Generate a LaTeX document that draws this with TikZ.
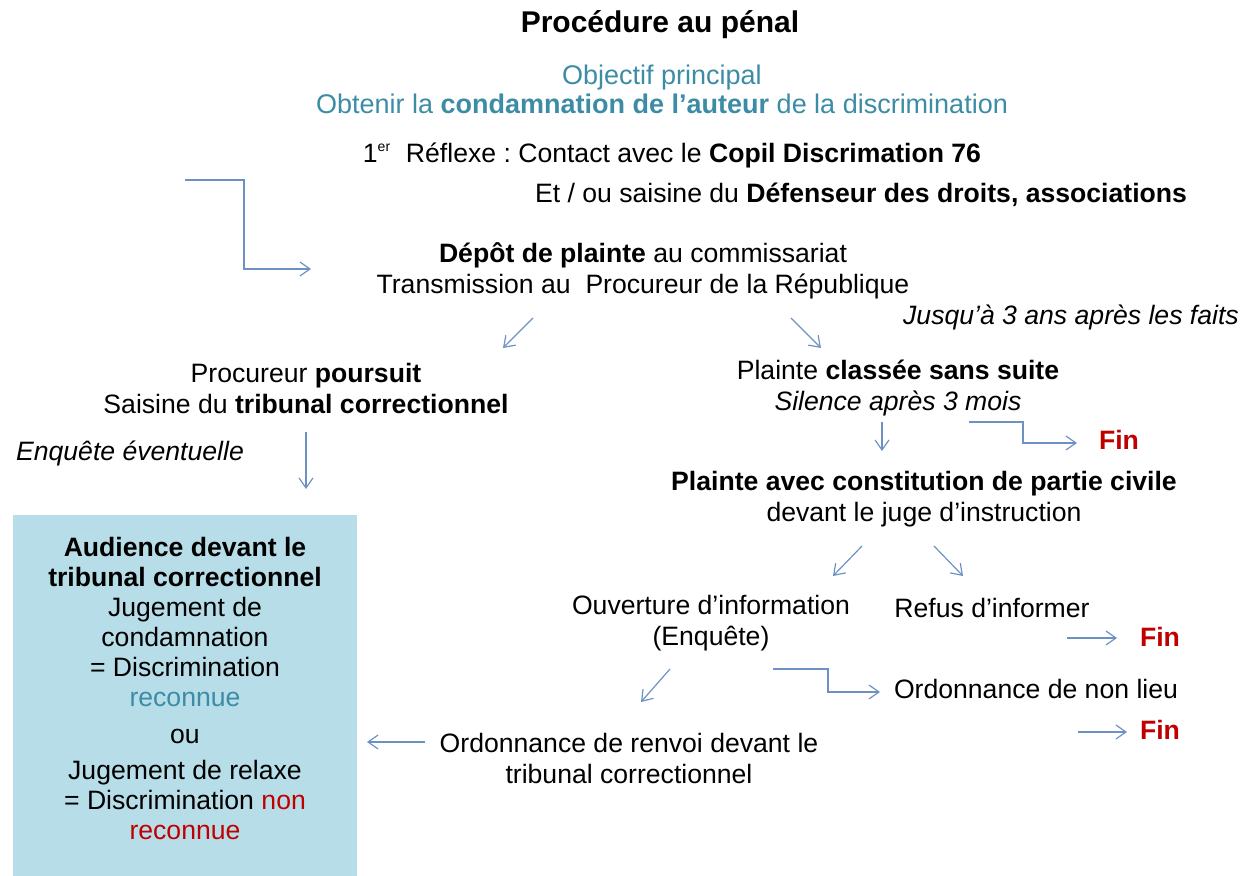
\documentclass[tikz,border=0pt]{standalone}
\usepackage{fontspec}
\setmainfont{Liberation Sans}
\usetikzlibrary{arrows.meta}
\definecolor{tealc}{RGB}{60,140,165}
\definecolor{redc}{RGB}{192,0,0}
\definecolor{arrowc}{RGB}{110,145,195}
\definecolor{boxc}{RGB}{183,221,232}
\frenchspacing
\begin{document}
\begin{tikzpicture}[x=0.5pt,y=-0.5pt,
  txt/.style={inner sep=0pt, align=center, font=\fontsize{13.3}{15.5}\selectfont},
  fin/.style={txt, text=redc, font=\fontsize{13.3}{15.5}\selectfont\bfseries},
  arr/.style={draw=arrowc, line width=0.6pt, -{Straight Barb[length=5pt,width=7pt]}},
  bluebox/.style={fill=boxc, draw=none, minimum width=172pt, minimum height=180.5pt, inner sep=0pt}
  ]
\useasboundingbox (0,0) rectangle (1250,876);

% texts
\node[txt, font=\fontsize{15}{17}\selectfont\bfseries] (title) at (660,25) {Procédure au pénal};
\node[txt, text=tealc, font=\fontsize{13.5}{14.5}\selectfont] (obj) at (662,89) {Objectif principal\\ Obtenir la \textbf{condamnation de l’auteur} de la discrimination};
\node[txt] (reflexe) at (672,155) {1\textsuperscript{\scriptsize er}\ \ Réflexe : Contact avec le \textbf{Copil Discrimation 76}};
\node[txt] (etou) at (861,195) {Et / ou saisine du \textbf{Défenseur des droits, associations}};
\node[txt] (depot) at (643,271) {\textbf{Dépôt de plainte} au commissariat\\ Transmission au\ \ Procureur de la République};
\node[txt] (jusqu) at (1071,317) {\textit{Jusqu’à 3 ans après les faits}};
\node[txt] (proc) at (306,388) {Procureur \textbf{poursuit}\\ Saisine du \textbf{tribunal correctionnel}};
\node[txt] (classee) at (898,388) {Plainte \textbf{classée sans suite}\\ \textit{Silence après 3 mois}};
\node[txt] (enquete) at (130,453) {\textit{Enquête éventuelle}};
\node[fin] (fina) at (1119,440) {Fin};
\node[txt] (avec) at (924,499) {\textbf{Plainte avec constitution de partie civile}\\ devant le juge d’instruction};
\node[txt] (ouv) at (711,623) {Ouverture d’information\\ (Enquête)};
\node[txt] (refus) at (992,608) {Refus d’informer};
\node[fin] (finb) at (1160,637) {Fin};
\node[txt] (nonlieu) at (1036,689) {Ordonnance de non lieu};
\node[fin] (finc) at (1160,730) {Fin};
\node[txt] (renvoi) at (629,758) {Ordonnance de renvoi devant le\\ tribunal correctionnel};

% blue box
\node[bluebox] (boxbg) at (185,695.5) {};
\node[txt, font=\fontsize{13.3}{15}\selectfont] (aud) at (185,688) {\textbf{Audience devant le}\\ \textbf{tribunal correctionnel}\\ Jugement de\\ condamnation\\ = Discrimination\\ {\color{tealc}reconnue}\\[3.5pt] ou\\[3pt] Jugement de relaxe\\ = Discrimination {\color{redc}non}\\ {\color{redc}reconnue}};

% connector end points
\coordinate (s1) at (185,180);   \coordinate (t1) at (311,269);
\coordinate (d1a) at (533,318);  \coordinate (d1b) at (503,348);
\coordinate (d2a) at (791,318);  \coordinate (d2b) at (821,348);
\coordinate (p1a) at (306,432);  \coordinate (p1b) at (306,489);
\coordinate (c1a) at (882,422);  \coordinate (c1b) at (882,451);
\coordinate (c2a) at (969,422);  \coordinate (c2b) at (1077,443);
\coordinate (v1a) at (862,546);  \coordinate (v1b) at (833,576);
\coordinate (v2a) at (934,546);  \coordinate (v2b) at (963,576);
\coordinate (r1a) at (1067,638); \coordinate (r1b) at (1117,638);
\coordinate (o1a) at (670,669);  \coordinate (o1b) at (641,702);
\coordinate (o2a) at (773,669);  \coordinate (o2b) at (880,692);
\coordinate (n1a) at (1078,732); \coordinate (n1b) at (1127,732);
\coordinate (e1a) at (425,742);  \coordinate (e1b) at (367,742);

% connectors
\draw[arr] (s1) -- ++(59,0) |- (t1);
\draw[arr] (d1a) -- (d1b);
\draw[arr] (d2a) -- (d2b);
\draw[arr] (p1a) -- (p1b);
\draw[arr] (c1a) -- (c1b);
\draw[arr] (c2a) -- ++(54,0) |- (c2b);
\draw[arr] (v1a) -- (v1b);
\draw[arr] (v2a) -- (v2b);
\draw[arr] (r1a) -- (r1b);
\draw[arr] (o1a) -- (o1b);
\draw[arr] (o2a) -- ++(55,0) |- (o2b);
\draw[arr] (n1a) -- (n1b);
\draw[arr] (e1a) -- (e1b);
\end{tikzpicture}
\end{document}
